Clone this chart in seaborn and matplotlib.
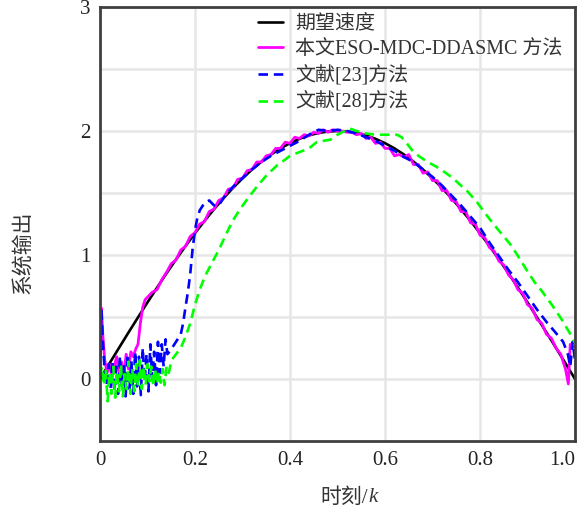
import numpy as np
import pandas as pd
import matplotlib
matplotlib.use("Agg")
import matplotlib.pyplot as plt
import seaborn as sns
from matplotlib.ticker import FixedLocator

# ---------------- data ----------------
t_ref = [0.00, 0.02, 0.04, 0.06, 0.08, 0.10, 0.12, 0.14, 0.16, 0.18, 0.20, 0.22, 0.24, 0.26,
         0.28, 0.30, 0.32, 0.34, 0.36, 0.38, 0.40, 0.42, 0.44, 0.46, 0.48, 0.50, 0.52, 0.54,
         0.56, 0.58, 0.60, 0.62, 0.64, 0.66, 0.68, 0.70, 0.72, 0.74, 0.76, 0.78, 0.80, 0.82,
         0.84, 0.86, 0.88, 0.90, 0.92, 0.94, 0.96, 0.98, 1.00]
y_ref = [0.000, 0.126, 0.251, 0.375, 0.497, 0.618, 0.736, 0.852, 0.964, 1.072, 1.176, 1.275,
         1.369, 1.458, 1.541, 1.618, 1.689, 1.753, 1.810, 1.860, 1.902, 1.937, 1.965, 1.984,
         1.996, 2.000, 1.996, 1.984, 1.965, 1.937, 1.902, 1.860, 1.810, 1.753, 1.689, 1.618,
         1.541, 1.458, 1.369, 1.275, 1.176, 1.072, 0.964, 0.852, 0.736, 0.618, 0.497, 0.375,
         0.251, 0.126, 0.000]

t_eso = [0.000, 0.003, 0.006, 0.010, 0.015, 0.020, 0.025, 0.030, 0.035, 0.040, 0.045, 0.050,
         0.055, 0.060, 0.065, 0.070, 0.075, 0.080, 0.085, 0.090, 0.095,
         0.10, 0.11, 0.12, 0.13, 0.14, 0.15, 0.16, 0.17, 0.18, 0.19, 0.20, 0.21, 0.22, 0.23,
         0.24, 0.25, 0.26, 0.27, 0.28, 0.29, 0.30, 0.31, 0.32, 0.33, 0.34, 0.35, 0.36, 0.37,
         0.38, 0.39, 0.40, 0.41, 0.42, 0.43, 0.44, 0.45, 0.46, 0.47, 0.48, 0.49, 0.50, 0.51,
         0.52, 0.53, 0.54, 0.55, 0.56, 0.57, 0.58, 0.59, 0.60, 0.61, 0.62, 0.63, 0.64, 0.65,
         0.66, 0.67, 0.68, 0.69, 0.70, 0.71, 0.72, 0.73, 0.74, 0.75, 0.76, 0.77, 0.78, 0.79,
         0.80, 0.81, 0.82, 0.83, 0.84, 0.85, 0.86, 0.87, 0.88, 0.89, 0.90, 0.91, 0.92, 0.93,
         0.94, 0.95, 0.96, 0.97, 0.98, 0.986, 0.99, 1.00]
y_eso = [0.10, 0.57, 0.35, 0.15, 0.05, 0.12, 0.02, 0.10, 0.18, 0.05, 0.14, 0.02,
         0.20, 0.08, 0.22, 0.18, 0.24, 0.28, 0.45, 0.58, 0.64,
         0.66, 0.70, 0.72, 0.80, 0.86, 0.93, 0.96, 1.04, 1.07, 1.15, 1.18, 1.25, 1.27, 1.35,
         1.37, 1.44, 1.46, 1.53, 1.54, 1.61, 1.62, 1.68, 1.69, 1.75, 1.75, 1.80, 1.81, 1.86,
         1.86, 1.91, 1.90, 1.95, 1.94, 1.97, 1.96, 1.99, 1.98, 2.01, 1.99, 2.01, 2.00, 2.00,
         1.99, 1.99, 1.97, 1.98, 1.94, 1.95, 1.90, 1.91, 1.86, 1.86, 1.80, 1.81, 1.79, 1.81,
         1.73, 1.73, 1.66, 1.67, 1.60, 1.60, 1.52, 1.52, 1.44, 1.43, 1.35, 1.35, 1.26, 1.25,
         1.16, 1.14, 1.06, 1.03, 0.95, 0.92, 0.84, 0.80, 0.72, 0.69, 0.60, 0.57, 0.48, 0.45,
         0.36, 0.33, 0.25, 0.20, 0.08, -0.04, 0.28, 0.25]

t_r23 = [0.000, 0.003, 0.006, 0.010, 0.014, 0.018, 0.022, 0.026, 0.030, 0.034, 0.038, 0.042,
         0.046, 0.050, 0.054, 0.058, 0.062, 0.066, 0.070, 0.074, 0.078, 0.082, 0.086, 0.090,
         0.094, 0.098, 0.102, 0.106, 0.110, 0.114, 0.118, 0.122, 0.126, 0.130, 0.134, 0.138,
         0.142, 0.150, 0.160, 0.170, 0.175, 0.180, 0.185, 0.190, 0.195, 0.200, 0.205, 0.210,
         0.220, 0.230, 0.240, 0.250, 0.260, 0.270, 0.280, 0.30, 0.32, 0.34, 0.36, 0.38, 0.40,
         0.42, 0.44, 0.46, 0.48, 0.50, 0.52, 0.54, 0.56, 0.58, 0.60, 0.62, 0.64, 0.66, 0.68,
         0.70, 0.72, 0.74, 0.76, 0.78, 0.80, 0.82, 0.84, 0.86, 0.88, 0.90, 0.92, 0.94, 0.96,
         0.975, 0.985, 0.99, 0.995, 1.00]
y_r23 = [0.05, 0.55, 0.30, 0.05, -0.05, 0.12, -0.08, 0.15, -0.10, 0.10, -0.12, 0.18,
         -0.05, 0.12, -0.14, 0.20, -0.08, 0.15, -0.12, 0.22, -0.06, 0.18, -0.13, 0.25,
         -0.02, 0.20, -0.10, 0.28, 0.00, 0.22, -0.05, 0.30, 0.05, 0.28, 0.10, 0.32,
         0.20, 0.24, 0.30, 0.36, 0.45, 0.58, 0.70, 0.85, 1.05, 1.20, 1.30, 1.36,
         1.42, 1.44, 1.40, 1.40, 1.46, 1.51, 1.55, 1.62, 1.69, 1.75, 1.80, 1.84, 1.88,
         1.92, 1.97, 2.01, 2.00, 2.01, 2.00, 1.98, 1.95, 1.92, 1.88, 1.84, 1.79, 1.75, 1.69,
         1.63, 1.56, 1.48, 1.40, 1.31, 1.22, 1.10, 0.99, 0.88, 0.78, 0.67, 0.56, 0.46, 0.37,
         0.30, 0.20, 0.10, 0.30, 0.15]

t_r28 = [0.000, 0.004, 0.008, 0.012, 0.016, 0.020, 0.024, 0.028, 0.032, 0.036, 0.040, 0.044,
         0.048, 0.052, 0.056, 0.060, 0.064, 0.068, 0.072, 0.076, 0.080, 0.084, 0.088, 0.092,
         0.096, 0.100, 0.104, 0.108, 0.112, 0.116, 0.120, 0.124, 0.128, 0.132, 0.136, 0.140,
         0.145, 0.150, 0.160, 0.170, 0.180, 0.190, 0.200, 0.210, 0.220, 0.232, 0.250, 0.267,
         0.280, 0.295, 0.310, 0.330, 0.350, 0.372, 0.390, 0.400, 0.420, 0.440, 0.456, 0.470,
         0.485, 0.500, 0.515, 0.526, 0.540, 0.560, 0.580, 0.600, 0.625, 0.635, 0.646, 0.660,
         0.674, 0.690, 0.709, 0.725, 0.743, 0.757, 0.772, 0.793, 0.814, 0.839, 0.863, 0.877,
         0.898, 0.915, 0.930, 0.951, 0.972, 0.989, 1.000]
y_r28 = [0.02, 0.10, -0.05, 0.08, -0.18, 0.05, -0.12, 0.10, -0.15, 0.06, -0.10, 0.12,
         -0.14, 0.04, -0.08, 0.14, -0.12, 0.08, -0.10, 0.12, -0.06, 0.15, -0.08, 0.10,
         -0.05, 0.12, -0.02, 0.10, -0.06, 0.08, -0.04, 0.06, -0.03, 0.08, -0.05, 0.10,
         0.05, 0.15, 0.20, 0.25, 0.34, 0.45, 0.60, 0.72, 0.82, 0.91, 1.04, 1.18,
         1.28, 1.37, 1.45, 1.55, 1.64, 1.72, 1.77, 1.80, 1.83, 1.86, 1.91, 1.92,
         1.93, 1.97, 2.00, 2.02, 2.00, 1.98, 1.97, 1.97, 1.97, 1.95, 1.90, 1.83,
         1.79, 1.75, 1.71, 1.67, 1.62, 1.57, 1.52, 1.43, 1.32, 1.20, 1.09, 1.01,
         0.88, 0.78, 0.71, 0.60, 0.48, 0.37, 0.29]

labels = ["期望速度", "本文ESO-MDC-DDASMC 方法", "文献[23]方法", "文献[28]方法"]
colors = ["#000000", "#ff00ff", "#0000ff", "#00ff00"]
x_ticks = [0, 0.2, 0.4, 0.6, 0.8, 1.0]
x_ticklabels = ["0", "0.2", "0.4", "0.6", "0.8", "1.0"]
y_ticks = [0, 1, 2, 3]
y_ticklabels = ["0", "1", "2", "3"]
x_label_main = "时刻/"
x_label_var = "k"
y_label = "系统输出"

# ---------------- style ----------------
sns.set_style("white")
FAM = ["Liberation Serif", "Noto Sans CJK SC"]
plt.rcParams["font.family"] = FAM

fig = plt.figure(figsize=(5.86, 5.15), dpi=100)
ax = fig.add_axes([100 / 586, 1 - 441 / 515, 475 / 586, 434 / 515])

series = [(t_ref, y_ref), (t_eso, y_eso), (t_r23, y_r23), (t_r28, y_r28)]
styles = ["-", "-", (0, (3.6, 2.2)), (0, (3.6, 2.2))]
widths = [1.9, 2.0, 1.9, 1.9]
for (tx, ty), lab, col, ls, lw in zip(series, labels, colors, styles, widths):
    df = pd.DataFrame({"t": tx, "y": ty})
    sns.lineplot(data=df, x="t", y="y", ax=ax, color=col, linestyle=ls, linewidth=lw,
                 label=lab, estimator=None, sort=False)

ax.set_xlim(0, 1.0)
ax.set_ylim(-0.5, 3)
ax.xaxis.set_major_locator(FixedLocator(x_ticks))
ax.set_xticklabels(x_ticklabels)
ax.yaxis.set_major_locator(FixedLocator(y_ticks))
ax.set_yticklabels(y_ticklabels)
ax.yaxis.set_minor_locator(FixedLocator([0.5, 1.5, 2.5]))

ax.grid(True, which="major", color="#e6e6e6", linewidth=1.8)
ax.grid(True, which="minor", axis="y", color="#e6e6e6", linewidth=1.8)
ax.set_axisbelow(True)
ax.tick_params(which="major", direction="in", length=3, width=1.5, color="#404040",
               labelsize=15, pad=7, labelcolor="#222222")
ax.tick_params(which="minor", length=0)
ax.get_xticklabels()[-1].set_horizontalalignment("right")
for sp in ax.spines.values():
    sp.set_color("#404040")
    sp.set_linewidth(2)
    sp.set_visible(True)

ax.set_xlabel("")
ax.text(0.564, -0.131, x_label_main, transform=ax.transAxes, ha="right", va="center",
        fontsize=15, color="#333333", family=FAM)
ax.text(0.566, -0.131, x_label_var, transform=ax.transAxes, ha="left", va="center",
        fontsize=15, color="#333333", family=FAM, style="italic")
ax.set_ylabel(y_label, fontsize=15, color="#333333")
ax.yaxis.set_label_coords(-0.14, 0.435)

leg = ax.legend(loc="upper left", bbox_to_anchor=(0.333, 0.982), frameon=False,
                fontsize=14.4, handlelength=1.25, handletextpad=0.6, labelspacing=0.32,
                borderpad=0, borderaxespad=0)
for txt in leg.get_texts():
    txt.set_color("#333333")

fig.savefig("out.png", dpi=100)
